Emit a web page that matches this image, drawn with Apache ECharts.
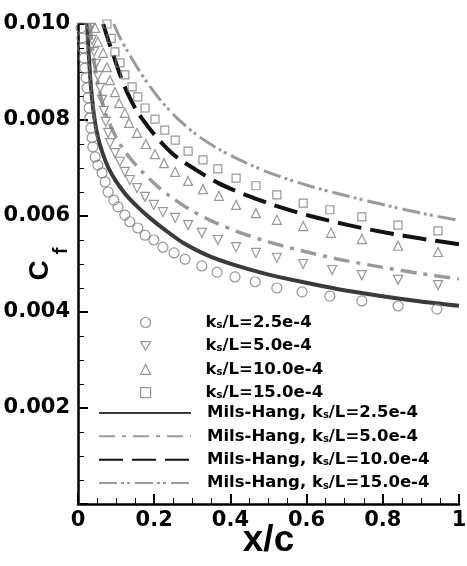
<!DOCTYPE html>
<html><head><meta charset="utf-8">
<script src="https://cdn.jsdelivr.net/npm/echarts@6/dist/echarts.min.js"></script>
<style>html,body{margin:0;padding:0;background:#fff}#c{width:467px;height:566px}</style>
</head><body><div id="c"></div><script>
// ---- data ----
const names = ['k_s/L=2.5e-4','k_s/L=5.0e-4','k_s/L=10.0e-4','k_s/L=15.0e-4'];
const expK25 = [[0.008,0.00992],[0.0105,0.00971],[0.013,0.0095],[0.016,0.00929],[0.018,0.00908],[0.021,0.00888],[0.024,0.00867],[0.026,0.00846],[0.029,0.00825],[0.031,0.00804],[0.034,0.00783],[0.037,0.00763],[0.039,0.00744],[0.045,0.00723],[0.052,0.00706],[0.063,0.0069],[0.071,0.00671],[0.079,0.0065],[0.094,0.00633],[0.105,0.00619],[0.123,0.00602],[0.136,0.00588],[0.157,0.00575],[0.176,0.0056],[0.199,0.0055],[0.223,0.00535],[0.252,0.00523],[0.281,0.0051],[0.325,0.00496],[0.365,0.00483],[0.412,0.00473],[0.465,0.00463],[0.522,0.0045],[0.588,0.00442],[0.661,0.00433],[0.745,0.00423],[0.840,0.004125],[0.942,0.00406]];
const expK50 = [[0.031,0.00992],[0.037,0.00967],[0.042,0.00942],[0.047,0.00917],[0.052,0.00892],[0.058,0.00867],[0.063,0.00842],[0.068,0.00819],[0.073,0.00796],[0.079,0.00773],[0.084,0.00752],[0.097,0.00731],[0.110,0.00713],[0.123,0.00692],[0.136,0.00675],[0.155,0.00658],[0.176,0.0064],[0.199,0.00623],[0.223,0.00608],[0.255,0.00596],[0.289,0.00581],[0.325,0.00565],[0.367,0.0055],[0.415,0.00535],[0.467,0.00523],[0.522,0.00513],[0.591,0.0050],[0.667,0.004875],[0.745,0.00477],[0.840,0.00467],[0.945,0.00456]];
const expK100 = [[0.045,0.00992],[0.052,0.00963],[0.066,0.0094],[0.076,0.0091],[0.084,0.00883],[0.097,0.00858],[0.108,0.00835],[0.123,0.00815],[0.134,0.00794],[0.155,0.00773],[0.178,0.0075],[0.202,0.00729],[0.226,0.0071],[0.255,0.00692],[0.289,0.00673],[0.328,0.00656],[0.370,0.00642],[0.415,0.00623],[0.467,0.00606],[0.522,0.00592],[0.591,0.00579],[0.664,0.00565],[0.745,0.00552],[0.840,0.00538],[0.945,0.00525]];
const expK150 = [[0.076,0.0100],[0.087,0.0097],[0.097,0.00942],[0.110,0.00919],[0.123,0.00894],[0.142,0.00869],[0.157,0.00848],[0.176,0.00825],[0.202,0.00802],[0.228,0.00779],[0.255,0.00758],[0.289,0.00735],[0.328,0.00717],[0.367,0.00698],[0.415,0.00679],[0.467,0.00663],[0.522,0.00644],[0.591,0.00627],[0.661,0.00613],[0.745,0.00598],[0.840,0.00581],[0.945,0.00569]];
const mhK25 = [[0.024,0.0100],[0.028,0.0094],[0.034,0.0087],[0.042,0.0081],[0.052,0.00765],[0.065,0.0073],[0.080,0.0070],[0.10,0.00672],[0.125,0.00645],[0.155,0.0062],[0.19,0.00595],[0.23,0.0057],[0.28,0.00542],[0.34,0.00518],[0.41,0.00498],[0.49,0.0048],[0.58,0.00464],[0.68,0.00448],[0.79,0.00434],[0.90,0.00422],[1.0,0.00413]];
const mhK50 = [[0.031,0.0100],[0.038,0.0095],[0.047,0.0090],[0.058,0.00855],[0.072,0.00815],[0.09,0.0078],[0.11,0.0075],[0.135,0.00722],[0.165,0.00695],[0.20,0.00668],[0.24,0.00642],[0.29,0.00615],[0.35,0.0059],[0.42,0.00567],[0.50,0.00546],[0.59,0.00527],[0.69,0.00509],[0.80,0.00493],[0.90,0.0048],[1.0,0.00469]];
const mhK100 = [[0.066,0.0100],[0.080,0.00965],[0.095,0.0093],[0.11,0.00895],[0.13,0.00856],[0.155,0.00818],[0.185,0.00785],[0.22,0.00752],[0.26,0.00722],[0.31,0.00696],[0.37,0.00668],[0.44,0.00644],[0.52,0.00621],[0.61,0.0060],[0.71,0.00581],[0.81,0.00565],[0.90,0.00553],[1.0,0.00541]];
const mhK150 = [[0.094,0.0100],[0.11,0.00972],[0.13,0.00943],[0.155,0.0091],[0.185,0.00874],[0.22,0.00838],[0.26,0.00804],[0.31,0.0077],[0.37,0.00739],[0.44,0.00711],[0.52,0.00685],[0.61,0.00662],[0.71,0.00641],[0.81,0.00622],[0.90,0.00606],[1.0,0.00591]];
const xTicks = [0, 0.2, 0.4, 0.6, 0.8, 1];
const yTicks = [0.002, 0.004, 0.006, 0.008, 0.010];

// ---- chart ----
const FONT = 'DejaVu Sans';
const mk = '#7c7c7c';
const TRI_DOWN = 'path://M0,0L10,0L5,8.66Z';
const chart = echarts.init(document.getElementById('c'), null, {renderer:'canvas'});
const scatter = (name, data, symbol, size) => ({
  name, type:'scatter', data, symbol, symbolSize:size,
  itemStyle:{color:'rgba(255,255,255,0)', borderColor:mk, borderWidth:1.2},
  z:3, silent:true
});
const line = (name, data, color, width, dash) => ({
  name, type:'line', data, symbol:'none', smooth:0.3,
  lineStyle:{color, width, type:dash, cap:'butt'}, itemStyle:{color}, z:2, silent:true
});
const legendFmt = (n) => '{m|' + n.replace('k_s', 'k}{s|s}{m|') + '}';
const legendRich = {
  m:{fontFamily:FONT, fontWeight:'bold', fontSize:16.5, color:'#000', lineHeight:16},
  s:{fontFamily:FONT, fontWeight:'bold', fontSize:10, color:'#000', lineHeight:8, verticalAlign:'bottom'}
};
const lineNames = names.map(n => 'Mils-Hang, ' + n);
chart.setOption({
  animation:false,
  backgroundColor:'#fff',
  grid:{left:78, right:8, top:24, bottom:62, containLabel:false, outerBoundsMode:'none'},
  xAxis:{
    type:'value', min:0, max:1, interval:0.2,
    name:'x/c', nameLocation:'middle', nameGap:18, nameMoveOverlap:false,
    nameTextStyle:{fontFamily:'Liberation Sans', fontWeight:'bold', fontSize:37, color:'#000'},
    axisLine:{lineStyle:{color:'#000', width:2.5}},
    axisTick:{inside:true, length:10, lineStyle:{color:'#000', width:2}},
    minorTick:{show:true, splitNumber:4, length:6, lineStyle:{color:'#000', width:1}},
    splitLine:{show:false},
    axisLabel:{margin:6, fontFamily:FONT, fontWeight:'bold', fontSize:21, color:'#000',
      formatter:(v)=> { const t = xTicks.find(a=>Math.abs(a-v)<1e-9); return t===undefined?'':(t===0||t===1?String(t):t.toFixed(1)); }}
  },
  yAxis:{
    type:'value', min:0, max:0.010, interval:0.002,
    name:'{c|C}{g| }{f|f}', nameLocation:'middle', nameGap:7, nameMoveOverlap:false,
    nameTextStyle:{rich:{
      c:{fontFamily:'Liberation Sans', fontWeight:'bold', fontSize:28, color:'#000', lineHeight:28, verticalAlign:'top'},
      g:{fontFamily:'Liberation Sans', fontSize:4, color:'#000', lineHeight:45, padding:[0,0,0,5]},
      f:{fontFamily:'Liberation Sans', fontWeight:'bold', fontSize:20, color:'#000', lineHeight:20, verticalAlign:'bottom'}
    }},
    axisLine:{lineStyle:{color:'#000', width:2.5}},
    axisTick:{inside:true, length:10, lineStyle:{color:'#000', width:2}},
    minorTick:{show:true, splitNumber:4, length:6, lineStyle:{color:'#000', width:1}},
    splitLine:{show:false},
    axisLabel:{margin:8, fontFamily:FONT, fontWeight:'bold', fontSize:21, color:'#000',
      formatter:(v)=> { const t = yTicks.find(a=>Math.abs(a-v)<1e-12); return t===undefined?'':t.toFixed(3); }}
  },
  legend:[{
    orient:'vertical', left:140, top:314, padding:0, itemGap:6.4,
    itemWidth:10, itemHeight:10,
    itemStyle:{borderWidth:1.2},
    formatter:legendFmt,
    textStyle:{padding:[0,0,0,50], rich:legendRich},
    data:names.slice()
  },{
    orient:'vertical', left:98, top:404.4, padding:0, itemGap:6.4,
    itemWidth:92, itemHeight:10,
    itemStyle:{color:'rgba(0,0,0,0)', borderWidth:0, opacity:0},
    formatter:legendFmt,
    textStyle:{padding:[0,0,0,11], rich:legendRich},
    data:lineNames.slice()
  }],
  series:[
    scatter(names[0], expK25, 'circle', 10),
    scatter(names[1], expK50, TRI_DOWN, 9),
    scatter(names[2], expK100, 'triangle', 9),
    scatter(names[3], expK150, 'rect', 8),
    line(lineNames[0], mhK25, '#3a3a3a', 4, 'solid'),
    line(lineNames[1], mhK50, '#9a9a9a', 3.5, [16,7,4,7]),
    line(lineNames[2], mhK100, '#111111', 4, [24,9]),
    line(lineNames[3], mhK150, '#9a9a9a', 3, [18,4,3,3,3,5])
  ]
});
</script></body></html>
